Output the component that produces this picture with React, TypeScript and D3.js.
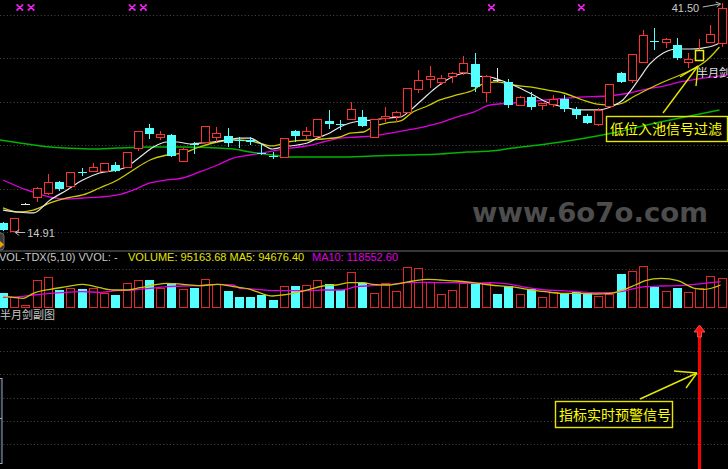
import React from "react";
import * as d3 from "d3";

// ---------- data ----------
const opens = [15.95, 15.03, 18.16, 18.97, 19.44, 20.72, 20.25, 21.88, 21.99, 21.99, 22.69, 22.46, 24.66, 26.99, 25.94, 26.17, 23.15, 25.13, 25.36, 25.94, 26.06, 25.59, 25.59, 24.14, 23.68, 23.62, 26.64, 26.17, 26.06, 27.8, 27.45, 28.03, 28.26, 25.94, 28.15, 28.38, 28.84, 31.51, 32.67, 32.33, 33.02, 33.49, 34.42, 31.17, 32.56, 32.33, 29.66, 30.58, 29.66, 29.77, 30.35, 29.19, 28.38, 27.45, 29.54, 33.37, 32.56, 34.65, 37.03, 36.97, 36.62, 34.65, 34.88, 36.97, 36.86];
const closes = [15.14, 16.54, 18.16, 20.02, 20.72, 19.9, 21.88, 21.82, 22.46, 22.92, 21.99, 24.2, 26.64, 26.29, 26.29, 23.73, 24.55, 25.07, 27.22, 26.4, 25.24, 25.53, 25.36, 24.08, 23.62, 25.82, 26.06, 26.64, 28.03, 27.45, 27.39, 29.19, 27.22, 28.03, 28.38, 28.84, 31.63, 32.56, 33.02, 32.79, 33.37, 34.53, 31.75, 33.02, 32.56, 29.66, 30.58, 29.42, 29.89, 30.35, 29.19, 28.5, 27.57, 29.08, 32.09, 32.33, 35.58, 37.78, 36.97, 37.32, 35.11, 35.0, 36.04, 37.9, 40.92];
const highs = [16.07, 16.54, 18.28, 20.13, 21.64, 20.83, 21.88, 22.34, 22.92, 22.92, 23.04, 24.2, 26.64, 27.45, 26.64, 26.29, 24.66, 25.36, 27.22, 27.1, 26.99, 25.94, 25.94, 25.24, 24.2, 25.82, 26.75, 27.1, 28.03, 29.08, 27.91, 30.0, 29.08, 28.03, 29.42, 28.96, 31.63, 33.72, 34.18, 33.14, 33.49, 35.35, 35.69, 33.14, 33.95, 32.67, 30.7, 31.17, 29.89, 30.82, 30.82, 29.42, 28.61, 29.31, 32.09, 33.49, 35.58, 38.36, 38.6, 37.44, 37.44, 35.69, 37.32, 38.95, 41.5];
const lows = [15.03, 14.91, 18.04, 18.39, 19.21, 19.67, 20.25, 21.41, 21.88, 21.99, 21.88, 22.46, 24.31, 25.71, 25.59, 23.62, 23.15, 23.97, 25.36, 25.36, 24.78, 24.66, 25.01, 23.85, 23.39, 23.62, 25.36, 25.71, 26.06, 26.87, 26.75, 28.03, 27.1, 25.82, 27.68, 27.68, 28.84, 31.05, 31.63, 31.98, 32.21, 33.14, 31.17, 30.0, 32.33, 29.31, 29.54, 29.08, 29.08, 29.42, 28.84, 28.03, 27.45, 27.22, 29.54, 32.21, 32.21, 34.53, 36.04, 36.27, 34.88, 33.95, 34.88, 36.86, 36.39];
const volumes = [48000, 35450, 9400, 87840, 96300, 56470, 63680, 58660, 63680, 46110, 40780, 77480, 87840, 88500, 63680, 77480, 58660, 63680, 90030, 74350, 54270, 35450, 33570, 40780, 25100, 69010, 69010, 72150, 87840, 74350, 56470, 112000, 77480, 46110, 77480, 54270, 127680, 126420, 82500, 43920, 56470, 77480, 77480, 77480, 42980, 69010, 42980, 58660, 33570, 51130, 48000, 51130, 46110, 37640, 42980, 105720, 117010, 131750, 66820, 54270, 63680, 49250, 61800, 100380, 95163.68];

const ma5 = [[0, 17.46], [1.3, 17.23], [2.7, 17.12], [4.2, 18.63], [5.7, 19.79], [7.1, 20.95], [8.6, 21.76], [10.2, 22.11], [11, 22.46], [12.2, 23.62], [13.4, 24.78], [14.6, 25.36], [15.5, 25.36], [16.7, 25.13], [17.5, 25.24], [18.7, 25.36], [20, 25.59], [21.1, 25.82], [22, 25.82], [22.9, 25.24], [24, 24.55], [24.9, 24.78], [26.2, 25.01], [27.1, 25.24], [28, 25.82], [29.1, 26.4], [30, 27.1], [30.9, 27.57], [31.8, 27.8], [32.9, 27.91], [34.2, 28.15], [35.4, 28.26], [36.2, 28.96], [37.1, 30.0], [38.3, 31.4], [39.5, 32.56], [40.7, 33.26], [41.3, 33.37], [42.2, 33.02], [43.4, 32.91], [44, 32.67], [45.4, 31.98], [46.9, 31.05], [48.4, 30.0], [49.9, 29.42], [51.4, 29.08], [52.9, 29.08], [54.3, 29.54], [55.2, 30.24], [55.8, 31.17], [56.7, 32.79], [57.6, 34.42], [58.8, 35.69], [60, 36.16], [61.2, 36.16], [62.3, 36.27], [63.2, 36.51], [64, 36.97]];
const ma10 = [[0, 17.7], [1.3, 17.23], [2.7, 17.46], [4.2, 18.28], [5.7, 18.86], [7.1, 19.21], [8.6, 20.02], [10.2, 20.95], [11.6, 22.11], [13.1, 23.27], [14.6, 23.85], [16, 24.08], [17.5, 24.78], [19.1, 25.36], [20.5, 25.59], [22, 25.48], [24, 24.9], [25.3, 25.36], [27.1, 25.59], [28.5, 25.71], [30, 25.94], [30.9, 26.4], [32.1, 26.52], [32.9, 27.1], [34.2, 27.57], [35.4, 27.8], [36.5, 28.84], [37.8, 29.54], [38.9, 30.24], [40.4, 30.82], [41.9, 31.4], [42.7, 32.09], [44, 32.33], [45.4, 31.98], [46.9, 31.75], [48.4, 31.4], [49.9, 31.05], [51.4, 30.35], [52.9, 29.77], [54.3, 29.66], [55.2, 29.89], [56.1, 30.58], [57.3, 31.4], [58.8, 32.33], [60.3, 33.14], [61.8, 34.07], [62.7, 34.88], [63.8, 36.39]];
const ma20 = [[0, 20.95], [2.1, 19.79], [4.2, 18.97], [5.7, 18.74], [7.1, 18.86], [8.6, 18.97], [10.2, 19.21], [11.6, 19.79], [13.1, 20.6], [14.6, 20.95], [16, 21.18], [17.5, 21.88], [19.1, 22.69], [20.5, 23.5], [22, 23.85], [24, 24.31], [25.6, 24.66], [27.1, 24.9], [28.5, 25.36], [30, 25.82], [31.5, 25.94], [32.9, 26.06], [34.5, 26.4], [36, 26.75], [37.4, 27.1], [38.9, 27.57], [40.4, 28.26], [41.9, 28.84], [43.4, 29.66], [45.4, 29.89], [48.4, 30.24], [51.4, 30.58], [53.8, 30.7], [55.8, 31.05], [57.3, 31.51], [58.8, 31.86], [60.3, 32.33], [61.8, 32.67], [63.2, 32.91], [64.5, 33.14]];
const ma60 = [[-0.3, 25.59], [2.1, 25.13], [4.2, 24.78], [5.7, 24.66], [8, 24.55], [10.2, 24.66], [13.1, 24.78], [16, 24.78], [19.1, 24.66], [20.5, 24.55], [22, 24.2], [22.6, 24.08], [24, 23.85], [25.6, 23.62], [30, 23.62], [32.9, 23.73], [36, 23.85], [38.9, 23.97], [41.3, 24.2], [43.4, 24.31], [45.4, 24.66], [48.4, 25.13], [51.4, 25.71], [54.3, 26.4], [57.3, 27.33], [60.3, 28.15], [63.8, 29.08]];

const volMa5 = [[0, 37640], [0.9, 33570], [1.8, 30430], [2.7, 46110], [4.2, 58660], [5.7, 66820], [7.1, 74350], [8.6, 63680], [9.8, 56470], [11, 56470], [12.2, 63680], [13.4, 72150], [14.6, 77480], [16, 74350], [17.5, 69960], [19.1, 74350], [20.5, 66820], [22, 58660], [22.6, 51130], [24, 37640], [24.9, 40780], [26.2, 49250], [27.3, 58660], [28.5, 69010], [29.7, 72150], [30.9, 79370], [32.1, 79370], [32.9, 74350], [34.2, 72150], [35.4, 77480], [36.5, 84700], [37.8, 90030], [38.9, 87840], [40.4, 84700], [41.9, 79370], [43.4, 72150], [45.2, 66820], [46.7, 58660], [48.3, 51130], [49.7, 46110], [51.2, 46110], [52.7, 43920], [54.1, 46110], [55, 54270], [56.3, 72150], [57.2, 85640], [58.6, 93170], [60.1, 85640], [61.6, 61800], [62.5, 58660], [63.9, 72150]];
const volMa10 = [[0, 33570], [1.5, 35450], [2.7, 40780], [4.2, 46110], [5.7, 49250], [7.1, 51130], [8.6, 49250], [10.2, 54270], [11.6, 56470], [13.1, 61800], [14.6, 66820], [16, 69010], [17.5, 69960], [19.1, 74350], [20.5, 72150], [21.1, 61800], [22.6, 58660], [24, 54270], [25.6, 54270], [27.1, 54270], [28.5, 56470], [30, 56470], [31.5, 66820], [32.9, 69960], [34.5, 74350], [36, 79370], [37.4, 80620], [38.9, 79370], [40.4, 79370], [41.9, 77480], [43.4, 79370], [45.2, 74350], [46.7, 63680], [48.3, 56470], [49.7, 54270], [51.2, 51130], [52.7, 48000], [54.1, 48000], [55, 51130], [56.3, 61800], [57.2, 66820], [58.6, 69010], [60.1, 69960], [61.6, 74350], [63, 79370], [63.9, 82500]];

const markPos = [1.5, 2.5, 11.5, 12.5, 43.5, 51.5];
const signalIdx = 62;
const priceMin = 14.91;
const priceMax = 41.5;

const volTitle = "VOL-TDX(5,10) VVOL: -";
const volText1 = "VOLUME: 95163.68 MA5: 94676.40";
const volText2 = "MA10: 118552.60";
const subTitle = "半月剑副图";
const sigLabel = "半月剑";
const callout1 = "低位入池信号过滤";
const callout2 = "指标实时预警信号";
const watermark = "www.6o7o.com";

// ---------- styles ----------
const W = 728;
const H = 469;
const RED = "#ff3030";
const CYAN = "#54ffff";
const GRID = "#4a4a4a";
const LATIN = "'Liberation Sans', Arial, sans-serif";
const CJK = "'Noto Sans CJK SC', sans-serif";

export default function App() {
  const x = d3.scaleLinear().domain([0, 64]).range([3, 721.7]);
  const y = d3.scaleLinear().domain([priceMin, priceMax]).range([232, 3]);
  const yv = d3.scaleLinear().domain([0, 160000]).range([308, 257]);

  const pLine = d3.line<number[]>().x((d) => x(d[0])).y((d) => y(d[1])).curve(d3.curveMonotoneX);
  const vLine = d3.line<number[]>().x((d) => x(d[0])).y((d) => yv(d[1])).curve(d3.curveMonotoneX);

  const mainGrid = d3.range(6).map((k) => 15 + (k * (232 - 15)) / 5);
  const volGrid = [269];
  const subGrid = d3.range(6).map((k) => 328 + k * 23.2);

  const px = (v: number) => Math.round(v) + 0.5;

  const candles = opens.map((o, i) => {
    const c = closes[i];
    const cx = Math.round(x(i));
    const yH = Math.round(y(highs[i]));
    const yL = Math.round(y(lows[i]));
    const yTop = Math.round(y(Math.max(o, c)));
    const yBot = Math.round(y(Math.min(o, c)));
    const wx = cx + 0.5;
    if (o === c) {
      return (
        <g key={i} stroke="#e8e8e8" strokeWidth={1}>
          <line x1={wx} x2={wx} y1={yH} y2={yL} />
          <line x1={cx - 4} x2={cx + 5} y1={yTop + 0.5} y2={yTop + 0.5} />
        </g>
      );
    }
    if (c > o) {
      const bodyStroke = i === signalIdx ? "#f0f000" : RED;
      return (
        <g key={i}>
          <line x1={wx} x2={wx} y1={yH} y2={yTop} stroke={RED} />
          <line x1={wx} x2={wx} y1={yBot} y2={yL} stroke={RED} />
          <rect x={cx - 3.5} y={yTop + 0.5} width={8} height={Math.max(1, yBot - yTop)} fill="#000" stroke={bodyStroke} strokeWidth={i === signalIdx ? 1.5 : 1} />
        </g>
      );
    }
    return (
      <g key={i}>
        <line x1={wx} x2={wx} y1={yH} y2={yL} stroke={CYAN} />
        <rect x={cx - 4} y={yTop} width={9} height={Math.max(1, yBot - yTop)} fill={CYAN} />
      </g>
    );
  });

  const vBars = volumes.map((v, i) => {
    const o = opens[i];
    const c = closes[i];
    const prev = i > 0 ? closes[i - 1] : c;
    const up = c > o || (c === o && c >= prev);
    const cx = Math.round(x(i));
    const top = Math.round(yv(v));
    const base = Math.round(yv(0));
    if (up) {
      return <rect key={i} x={cx - 3.5} y={top + 0.5} width={8} height={base - top - 1} fill="#000" stroke="#e02828" strokeWidth={1} />;
    }
    return <rect key={i} x={cx - 4} y={top} width={9} height={base - top} fill={CYAN} />;
  });

  // annotation anchors
  const sx = Math.round(x(signalIdx));
  const hiX = x(64);
  const hiY = y(priceMax);
  const loX = x(1);
  const loY = y(priceMin);
  const tip1 = [sx - 1, Math.round(y(lows[signalIdx])) + 6];
  const tip2 = [sx - 2, 373];

  const mark = (cx: number, cy: number, k: number) => (
    <path
      key={k}
      d={`M${cx - 3},${cy - 2.5} L${cx + 3},${cy + 2.5} M${cx + 3},${cy - 2.5} L${cx - 3},${cy + 2.5} M${cx - 3.5},${cy - 2.5} H${cx - 1.5} M${cx + 1.5},${cy - 2.5} H${cx + 3.5} M${cx - 3.5},${cy + 2.5} H${cx - 1.5} M${cx + 1.5},${cy + 2.5} H${cx + 3.5}`}
      stroke="#ff20ff"
      strokeWidth={1.6}
      fill="none"
    />
  );

  return (
    <div style={{ position: "absolute", left: 0, top: 0, width: W, height: H, overflow: "hidden", background: "#000" }}>
      <svg width={W} height={H} viewBox={`0 0 ${W} ${H}`} style={{ display: "block", background: "#000" }}>
        <rect x={0} y={0} width={W} height={H} fill="#000" />

        {/* grid */}
        <g stroke={GRID} strokeWidth={1} strokeDasharray="1 2.4">
          {mainGrid.concat(volGrid, subGrid).map((g, k) => (
            <line key={k} x1={0} x2={W} y1={px(g)} y2={px(g)} />
          ))}
        </g>
        <line x1={0} x2={W} y1={251} y2={251} stroke="#363636" strokeWidth={2} />

        {/* watermark */}
        <text x={472} y={222} fontFamily="'DejaVu Sans', sans-serif" fontWeight="bold" fontSize={27} fill="#4d4d4d" textLength={236} lengthAdjust="spacingAndGlyphs">
          {watermark}
        </text>

        {/* moving averages */}
        <path d={pLine(ma60) || ""} fill="none" stroke="#00b400" strokeWidth={1.5} />
        <path d={pLine(ma20) || ""} fill="none" stroke="#e000e0" strokeWidth={1.3} />
        <path d={pLine(ma10) || ""} fill="none" stroke="#cccc00" strokeWidth={1.3} />
        <path d={pLine(ma5) || ""} fill="none" stroke="#e6e6e6" strokeWidth={1.2} />

        {/* candles */}
        {candles}

        {/* top marks */}
        {markPos.map((p, k) => mark(x(p), 7.5, k))}

        {/* high / low labels */}
        <text x={hiX - 50} y={hiY + 9} fontFamily={LATIN} fontSize={11} fill="#c8c8c8">41.50</text>
        <line x1={hiX - 19} y1={hiY + 4} x2={hiX - 2} y2={hiY + 1} stroke="#b8b8b8" />
        <path d={`M${hiX - 6},${hiY - 1} L${hiX - 1},${hiY + 1} L${hiX - 5},${hiY + 4}`} fill="none" stroke="#b8b8b8" />
        <line x1={loX + 1} y1={loY + 0.5} x2={loX + 11} y2={loY + 0.5} stroke="#b8b8b8" />
        <path d={`M${loX + 5},${loY - 2.5} L${loX + 1},${loY + 0.5} L${loX + 5},${loY + 3.5}`} fill="none" stroke="#b8b8b8" />
        <text x={loX + 13} y={loY + 4.5} fontFamily={LATIN} fontSize={11} fill="#c8c8c8">14.91</text>

        {/* left side widgets */}
        <rect x={-6} y={233} width={10} height={17} rx={3} fill="#3a3a3a" stroke="#6a6a6a" />
        <path d="M0,241 L4,244.5 L0,248 Z" fill="#f0a000" />
        <rect x={-5} y={378.5} width={7} height={85} fill="#0c1016" stroke="#9aa8b8" />
        <line x1={-5} x2={2} y1={418.5} y2={418.5} stroke="#9aa8b8" />

        {/* signal label */}
        <text x={sx - 2} y={77} fontFamily={CJK} fontSize={11} fill="#e0e0e0">{sigLabel}</text>

        {/* callout 1 */}
        <g stroke="#e6e600" strokeWidth={1.4} fill="none">
          <line x1={663} y1={113} x2={tip1[0]} y2={tip1[1]} />
          <line x1={680} y1={77} x2={tip1[0]} y2={tip1[1]} />
          <line x1={696} y1={86} x2={tip1[0]} y2={tip1[1]} />
          <rect x={606.5} y={116.5} width={121} height={25} />
        </g>
        <text x={610} y={134} fontFamily={CJK} fontSize={14} fill="#ffff00">{callout1}</text>

        {/* volume panel */}
        {vBars}
        <path d={vLine(volMa10) || ""} fill="none" stroke="#e000e0" strokeWidth={1.3} />
        <path d={vLine(volMa5) || ""} fill="none" stroke="#c8c800" strokeWidth={1.3} />
        <text x={-1} y={261} fontFamily={LATIN} fontSize={11} fill="#c8c8c8">{volTitle}</text>
        <text x={128} y={261} fontFamily={LATIN} fontSize={11} fill="#e6e600">{volText1}</text>
        <text x={312} y={261} fontFamily={LATIN} fontSize={11} fill="#e000e0">{volText2}</text>

        {/* sub panel */}
        <text x={0} y={319} fontFamily={CJK} fontSize={11} fill="#c8c8c8">{subTitle}</text>
        <rect x={sx - 1} y={335} width={3} height={H - 335} fill="#ff0000" />
        <path d={`M${sx + 0.5},325 L${sx + 6},332 L${sx + 2.5},332 L${sx + 2.5},337 L${sx - 1.5},337 L${sx - 1.5},332 L${sx - 5},332 Z`} fill="#ff1010" stroke="#ff6060" strokeWidth={0.8} />
        <g stroke="#e6e600" strokeWidth={1.4} fill="none">
          <line x1={640} y1={399} x2={tip2[0]} y2={tip2[1]} />
          <line x1={674} y1={371} x2={tip2[0]} y2={tip2[1]} />
          <line x1={686} y1={388} x2={tip2[0]} y2={tip2[1]} />
          <rect x={555.5} y={401.5} width={117} height={26} />
        </g>
        <text x={559} y={420} fontFamily={CJK} fontSize={14} fill="#ffff00">{callout2}</text>
      </svg>
    </div>
  );
}
